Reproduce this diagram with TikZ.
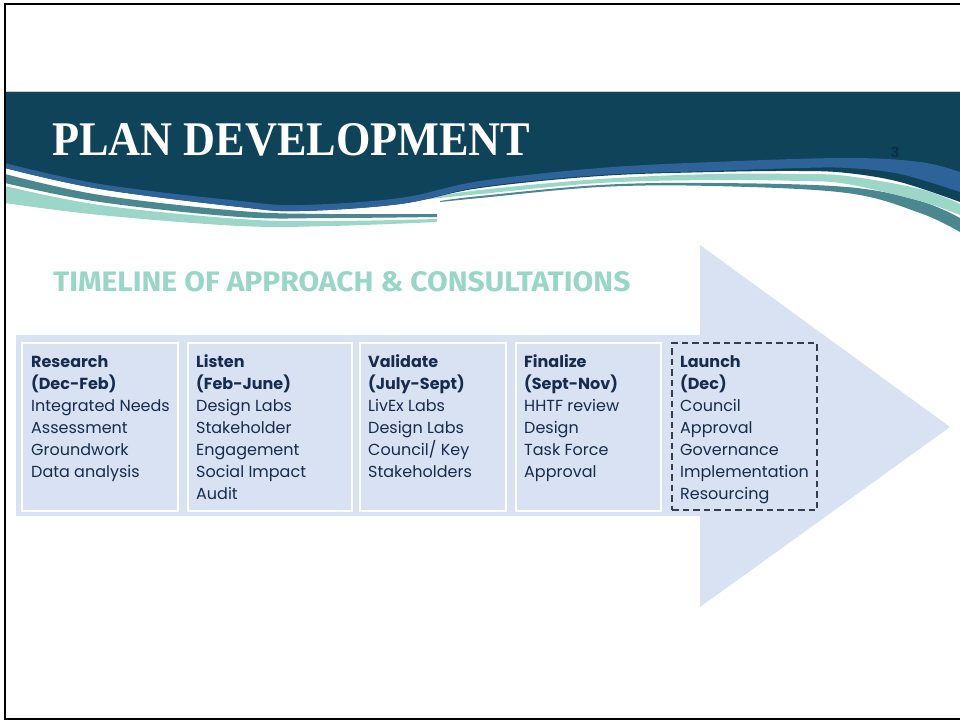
\documentclass[tikz,border=0pt]{standalone}
\usepackage{fontspec}
\usepackage{graphicx}
\setmainfont{Poppins}
\newfontfamily\titlefont{Liberation Serif}
\newfontfamily\subfont{Fira Sans}
\newfontfamily\numfont{Liberation Sans}
\usetikzlibrary{calc}
\definecolor{hdark}{HTML}{0F4359}
\definecolor{hblue}{HTML}{2D6399}
\definecolor{hteal}{HTML}{4A878F}
\definecolor{hmint}{HTML}{9CD6C9}
\definecolor{arrowfill}{HTML}{D8E2F3}
\definecolor{navy}{HTML}{172B4D}
\definecolor{dashgray}{HTML}{343D4B}
\definecolor{subcol}{HTML}{9AD6C8}
\definecolor{numcol}{HTML}{0A2F45}
\newcommand\boxlines[1]{\vtop{\baselineskip=22pt\lineskiplimit=-20pt\lineskip=0pt #1}}
\tikzset{
  tbox/.style={fill=arrowfill, draw=white, line width=1.5pt, inner sep=0pt, outer sep=0pt, anchor=north west},
  lbox/.style={fill=arrowfill, draw=dashgray, line width=1.7pt, dash pattern=on 6.5pt off 4pt, inner sep=0pt, outer sep=0pt, anchor=north west},
  txt/.style={anchor=base west, inner sep=0pt, text=navy, font=\fontsize{16}{22}\selectfont},
}
\begin{document}
\begin{tikzpicture}[x=1pt,y=-1pt]
\useasboundingbox (0,0) rectangle (960,721);
\fill[white] (0,0) rectangle (960,721);
% header stripes (right side, lower layers)
\fill[hteal] plot[smooth,tension=0.6] coordinates {(440,201) (480,196) (600,185) (713,183) (847,187) (920,201) (960,218)}
  -- plot[smooth,tension=0.6] coordinates {(960,232) (920,213) (847,193) (713,186) (600,187) (480,198) (440,202)} -- cycle;
\fill[hmint] plot[smooth,tension=0.6] coordinates {(420,199) (480,190) (600,179) (713,174) (800,174) (847,176) (920,189) (960,204)}
  -- plot[smooth,tension=0.6] coordinates {(960,215) (920,201) (847,184) (800,181) (713,180) (600,183) (480,194) (420,200)} -- cycle;
% left stripes
\fill[hteal] plot[smooth,tension=0.6] coordinates {(5,174) (100,195) (240,211) (330,214) (437,214)}
  -- plot[smooth,tension=0.6] coordinates {(437,217) (330,218) (240,217) (100,202) (5,183)} -- cycle;
\fill[hmint] plot[smooth,tension=0.6] coordinates {(5,186) (100,205) (240,219) (330,221) (437,219)}
  -- plot[smooth,tension=0.6] coordinates {(437,222) (330,226) (240,226) (100,215) (5,203)} -- cycle;
% dark band
\fill[hdark] (5,92) -- (960,92) -- plot[smooth,tension=0.6] coordinates {(960,202) (900,182) (847,173) (800,171) (713,172) (600,176) (480,188) (400,204) (300,211) (240,207) (100,189) (5,168)} -- cycle;
% blue stripe
\fill[hblue] plot[smooth,tension=0.6] coordinates {(5,163) (100,184) (240,201) (300,205) (400,198) (480,181) (600,168) (713,162) (847,158) (920,162) (960,172)}
  -- plot[smooth,tension=0.6] coordinates {(960,192) (900,174) (847,168) (800,168) (713,171) (600,175) (480,187) (400,204) (300,211) (240,207) (100,189) (5,168)} -- cycle;
\draw[line width=0.8pt, color=gray!40] (5,91.5) -- (960,91.5);
% title
\node[anchor=base west, inner sep=0pt, text=white] (title) at (52,155)
  {\resizebox{478pt}{32pt}{\titlefont\bfseries PLAN DEVELOPMENT}};
\node[anchor=center, inner sep=0pt, text=numcol] (pnum) at (895,152)
  {\numfont\bfseries\fontsize{15}{15}\selectfont 3};
% subtitle
\node[anchor=base west, inner sep=0pt, text=subcol] (sub) at (53,291)
  {\resizebox{577pt}{20pt}{\subfont\bfseries TIMELINE OF APPROACH \& CONSULTATIONS}};
% big arrow
\fill[arrowfill] (16,335) -- (700,335) -- (700,245) -- (950,427) -- (700,607) -- (700,516) -- (16,516) -- cycle;
% boxes
\node[tbox, minimum width=156pt, minimum height=168pt] (b1) at (22,343) {};
\node[tbox, minimum width=164pt, minimum height=168pt] (b2) at (188,343) {};
\node[tbox, minimum width=146pt, minimum height=168pt] (b3) at (360,343) {};
\node[tbox, minimum width=145pt, minimum height=168pt] (b4) at (516,343) {};
\node[lbox, minimum width=145pt, minimum height=167pt] (b5) at (672,343) {};
% texts
\node[txt] (t1) at ($(b1.north west)+(9,24)$) {\boxlines{%
  \hbox{\bfseries Research}\hbox{\bfseries (Dec-Feb)}\hbox{Integrated Needs}\hbox{Assessment}\hbox{Groundwork}\hbox{Data analysis}}};
\node[txt] (t2) at ($(b2.north west)+(8,24)$) {\boxlines{%
  \hbox{\bfseries Listen}\hbox{\bfseries (Feb-June)}\hbox{Design Labs}\hbox{Stakeholder}\hbox{Engagement}\hbox{Social Impact}\hbox{Audit}}};
\node[txt] (t3) at ($(b3.north west)+(8,24)$) {\boxlines{%
  \hbox{\bfseries Validate}\hbox{\bfseries (July-Sept)}\hbox{LivEx Labs}\hbox{Design Labs}\hbox{Council/ Key}\hbox{Stakeholders}}};
\node[txt] (t4) at ($(b4.north west)+(8,24)$) {\boxlines{%
  \hbox{\bfseries Finalize}\hbox{\bfseries (Sept-Nov)}\hbox{HHTF review}\hbox{Design}\hbox{Task Force}\hbox{Approval}}};
\node[txt] (t5) at ($(b5.north west)+(8,24)$) {\boxlines{%
  \hbox{\bfseries Launch}\hbox{\bfseries (Dec)}\hbox{Council}\hbox{Approval}\hbox{Governance}\hbox{Implementation}\hbox{Resourcing}}};
% frame
\draw[line width=2pt, black] (961,3.5) -- (4.5,3.5) -- (4.5,719) -- (961,719);
\end{tikzpicture}
\end{document}
